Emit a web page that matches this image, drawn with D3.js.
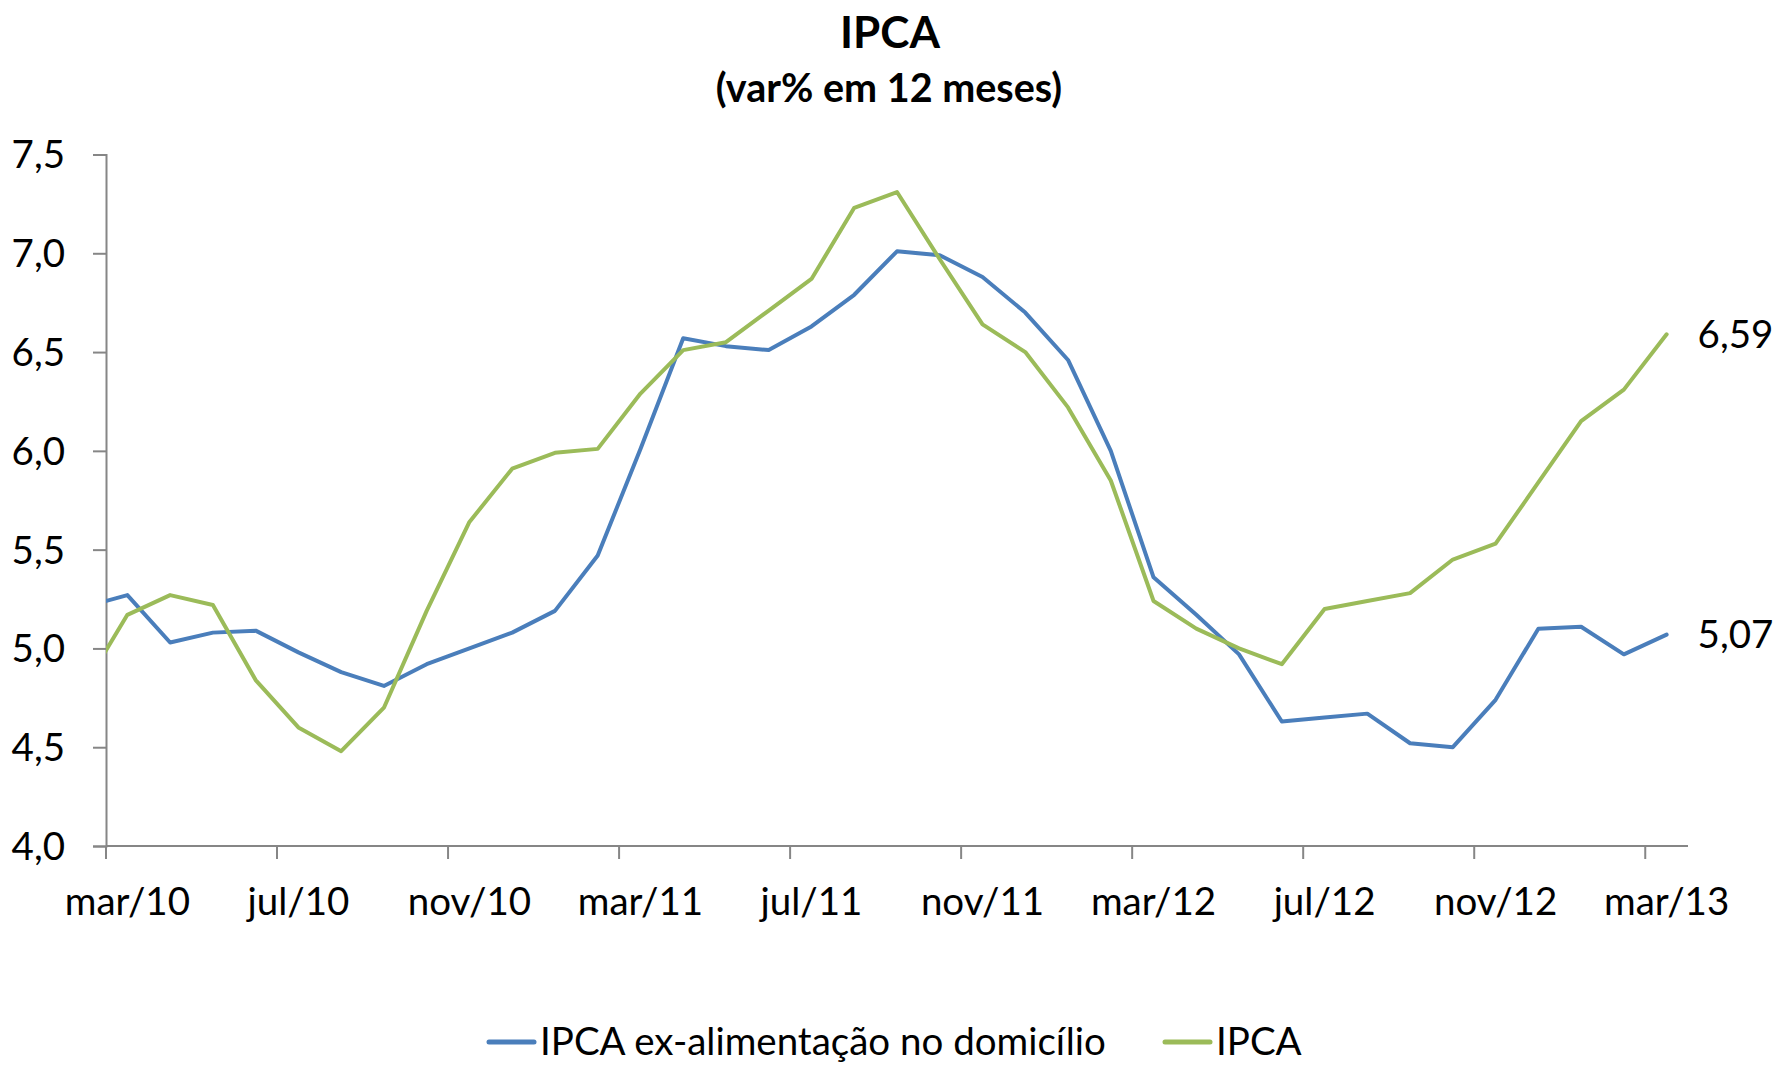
<!DOCTYPE html>
<html>
<head>
<meta charset="utf-8">
<script src="https://cdn.jsdelivr.net/npm/d3@7"></script>
<style>
  html, body { margin: 0; padding: 0; background: #ffffff; }
  svg { display: block; }
  text { font-family: Lato, "Open Sans", sans-serif; fill: #000; }
</style>
</head>
<body>
<svg id="chart" width="1774" height="1065"></svg>
<script>
// ---- data ----
const months = [
  "fev/10","mar/10","abr/10","mai/10","jun/10","jul/10","ago/10","set/10","out/10","nov/10","dez/10",
  "jan/11","fev/11","mar/11","abr/11","mai/11","jun/11","jul/11","ago/11","set/11","out/11","nov/11","dez/11",
  "jan/12","fev/12","mar/12","abr/12","mai/12","jun/12","jul/12","ago/12","set/12","out/12","nov/12","dez/12",
  "jan/13","fev/13","mar/13"
];
const exAlimentacao = [
  5.21, 5.27, 5.03, 5.08, 5.09, 4.98, 4.88, 4.81, 4.92, 5.00, 5.08,
  5.19, 5.47, 6.01, 6.57, 6.53, 6.51, 6.63, 6.79, 7.01, 6.99, 6.88, 6.70,
  6.46, 6.00, 5.36, 5.17, 4.97, 4.63, 4.65, 4.67, 4.52, 4.50, 4.74, 5.10,
  5.11, 4.97, 5.07
];
const ipca = [
  4.81, 5.17, 5.27, 5.22, 4.84, 4.60, 4.48, 4.70, 5.19, 5.64, 5.91,
  5.99, 6.01, 6.29, 6.51, 6.55, 6.71, 6.87, 7.23, 7.31, 6.97, 6.64, 6.50,
  6.22, 5.85, 5.24, 5.10, 5.00, 4.92, 5.20, 5.24, 5.28, 5.45, 5.53, 5.84,
  6.15, 6.31, 6.59
];
const xTickLabels = ["mar/10","jul/10","nov/10","mar/11","jul/11","nov/11","mar/12","jul/12","nov/12","mar/13"];
const yTicks = [4.0, 4.5, 5.0, 5.5, 6.0, 6.5, 7.0, 7.5];
const seriesNames = ["IPCA ex-alimentação no domicílio", "IPCA"];
const seriesColors = ["#4a7ebb", "#9bbb59"];
const titleText = "IPCA";
const subtitleText = "(var% em 12 meses)";

// ---- layout ----
const W = 1774, H = 1065;
const plot = { left: 106, right: 1688, top: 154.5, bottom: 846 };
const firstShown = months.indexOf("mar/10");
const lastShown = months.length - 1;
const fs = "38.5px";

const svg = d3.select("#chart");
svg.append("rect").attr("width", W).attr("height", H).attr("fill", "#fff");

const x = d3.scaleLinear()
  .domain([firstShown - 0.5, lastShown + 0.5])
  .range([plot.left, plot.right]);
const y = d3.scaleLinear().domain([4.0, 7.5]).range([plot.bottom, plot.top]);

const ptBR = d3.formatLocale({ decimal: ",", thousands: ".", grouping: [3], currency: ["R$", ""] });
const f1 = ptBR.format(".1f"), f2 = ptBR.format(".2f");

// Title
svg.append("text").attr("x", 890).attr("y", 48).attr("text-anchor", "middle")
  .style("font-size", "44px").style("font-weight", "bold").text(titleText);
svg.append("text").attr("x", 889).attr("y", 102).attr("text-anchor", "middle")
  .style("font-size", "39.5px").style("font-weight", "bold").text(subtitleText);

// clip
svg.append("clipPath").attr("id", "clip").append("rect")
  .attr("x", plot.left).attr("y", plot.top - 20)
  .attr("width", plot.right - plot.left + 20).attr("height", plot.bottom - plot.top + 40);

// Y axis
const yAxis = d3.axisLeft(y).tickValues(yTicks).tickFormat(f1).tickSize(13).tickPadding(28);
const gy = svg.append("g").attr("transform", `translate(${plot.left},0)`).call(yAxis);
gy.select(".domain").attr("stroke", "#868686").attr("stroke-width", 2);
gy.selectAll(".tick line").attr("stroke", "#868686").attr("stroke-width", 2);
gy.selectAll(".tick text").style("font-size", fs).attr("dy", "0.35em")
  .style("font-family", "Lato, sans-serif");

// X axis (category axis, ticks between categories every 4 months)
const tickIdx = xTickLabels.map(l => months.indexOf(l));
const gx = svg.append("g").attr("transform", `translate(0,${plot.bottom})`);
gx.append("line").attr("x1", plot.left).attr("x2", plot.right).attr("y1", 0).attr("y2", 0)
  .attr("stroke", "#868686").attr("stroke-width", 2);
gx.selectAll("line.tick").data(tickIdx).join("line").attr("class", "tick")
  .attr("x1", d => x(d - 0.5)).attr("x2", d => x(d - 0.5))
  .attr("y1", 0).attr("y2", 13).attr("stroke", "#868686").attr("stroke-width", 2);
gx.selectAll("text").data(xTickLabels).join("text")
  .attr("x", d => x(months.indexOf(d))).attr("y", 69)
  .attr("text-anchor", "middle").style("font-size", fs).text(d => d);

// Lines
const seriesData = [exAlimentacao, ipca];
const line = d3.line().x((d, i) => x(i)).y(d => y(d));
const gl = svg.append("g").attr("clip-path", "url(#clip)");
seriesData.forEach((s, k) => {
  gl.append("path").datum(s).attr("d", line).attr("fill", "none")
    .attr("stroke", seriesColors[k]).attr("stroke-width", 4)
    .attr("stroke-linejoin", "round").attr("stroke-linecap", "round");
});

// End labels
seriesData.forEach((s, k) => {
  const v = s[lastShown];
  svg.append("text").attr("x", x(lastShown) + 31).attr("y", y(v))
    .attr("dy", "0.35em").style("font-size", fs).text(f2(v));
});

// Legend
const legendItems = [
  { name: seriesNames[0], color: seriesColors[0], x0: 489 },
  { name: seriesNames[1], color: seriesColors[1], x0: 1165 }
];
legendItems.forEach(it => {
  svg.append("line").attr("x1", it.x0).attr("x2", it.x0 + 45).attr("y1", 1042).attr("y2", 1042)
    .attr("stroke", it.color).attr("stroke-width", 5).attr("stroke-linecap", "round");
  svg.append("text").attr("x", it.x0 + 51).attr("y", 1042).attr("dy", "0.35em")
    .style("font-size", fs).text(it.name);
});
</script>
</body>
</html>
